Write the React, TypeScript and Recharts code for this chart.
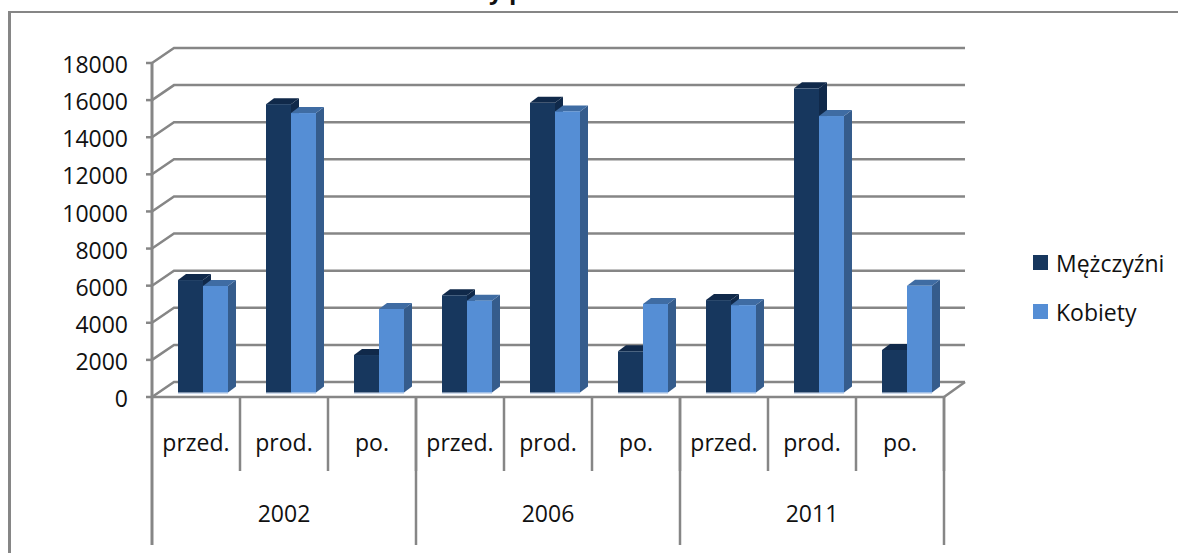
import React from 'react';
import { BarChart, Bar, XAxis, YAxis, CartesianGrid, Legend } from 'recharts';

const years = ['2002', '2002', '2002', '2006', '2006', '2006', '2011', '2011', '2011'];
const phases = ['przed.', 'prod.', 'po.', 'przed.', 'prod.', 'po.', 'przed.', 'prod.', 'po.'];
const menValues = [6060, 15540, 2020, 5240, 15610, 2220, 4980, 16390, 2290];
const womenValues = [5740, 15060, 4500, 4950, 15150, 4770, 4710, 14900, 5750];
const yTicks = [0, 2000, 4000, 6000, 8000, 10000, 12000, 14000, 16000, 18000];

const data = phases.map((phase, i) => ({
  key: years[i] + phase,
  phase,
  year: years[i],
  men: menValues[i],
  women: womenValues[i],
}));

const AXIS = '#868686';
const FONT = '"Open Sans", sans-serif';
const TEXT = '#111';
const DEPTH_X = 8;
const DEPTH_Y = 6;
const WALL_X = 22;
const WALL_Y = 15;

// pseudo 3D bar: front, top and side faces
const make3dBar = (front: string, top: string, side: string) => (props: any) => {
  const { width, height } = props;
  const x = props.x + 7;
  const y = props.y - 4.5;
  const r = x + width;
  const b = y + height;
  return (
    <g>
      <rect x={x} y={b} width={width} height={1.5} fill="#cfdcee" />
      <polygon
        points={`${r},${y} ${r + DEPTH_X},${y - DEPTH_Y} ${r + DEPTH_X},${b - DEPTH_Y} ${r},${b}`}
        fill={side}
      />
      <polygon
        points={`${x},${y} ${x + DEPTH_X},${y - DEPTH_Y} ${r + DEPTH_X},${y - DEPTH_Y} ${r},${y}`}
        fill={top}
      />
      <rect x={x} y={y} width={width} height={height} fill={front} />
    </g>
  );
};

const MenBar = make3dBar('#17375e', '#10294a', '#10294a');
const WomenBar = make3dBar('#558ed5', '#3f6ca3', '#355c8c');

// back wall line plus the diagonal running to the front axis
const gridLine = (props: any) => {
  const { x1, x2, y1 } = props;
  return (
    <g key={`grid-${y1}`}>
      <path
        d={`M${x1},${y1} L${x1 + WALL_X},${y1 - WALL_Y} L${x2 + WALL_X - 1},${y1 - WALL_Y}`}
        fill="none"
        stroke={AXIS}
        strokeWidth={2.5}
      />
      {y1 > 390 && (
        <line x1={x2} y1={y1} x2={x2 + WALL_X - 1} y2={y1 - WALL_Y} stroke={AXIS} strokeWidth={2.5} />
      )}
    </g>
  );
};

const PhaseTick = (props: any) => {
  const { x, y, payload, index } = props;
  return (
    <g>
      <line x1={x + 44} y1={y} x2={x + 44} y2={y + 74} stroke={AXIS} strokeWidth={2.5} />
      {index === 0 && <line x1={x - 44} y1={y} x2={x - 44} y2={y + 148} stroke={AXIS} strokeWidth={3} />}
      <text x={x} y={y + 54} textAnchor="middle" fontFamily={FONT} fontSize={23} fill={TEXT}>
        {payload.value}
      </text>
    </g>
  );
};

const YearTick = (props: any) => {
  const { x, y, payload, index } = props;
  return (
    <g>
      {index % 3 === 2 && <line x1={x + 44} y1={y - 74} x2={x + 44} y2={y + 74} stroke={AXIS} strokeWidth={2.5} />}
      {index % 3 === 1 && (
        <text x={x} y={y + 51} textAnchor="middle" fontFamily={FONT} fontSize={23} fill={TEXT}>
          {payload.value}
        </text>
      )}
    </g>
  );
};

const LegendBox = ({ payload }: any) => (
  <div>
    {(payload || []).map((item: any) => (
      <div key={item.value} style={{ display: 'flex', alignItems: 'center', height: 49 }}>
        <span style={{ width: 15, height: 15, background: item.color, marginRight: 8 }} />
        <span style={{ fontFamily: FONT, fontSize: 23, color: TEXT }}>{item.value}</span>
      </div>
    ))}
  </div>
);

const App = () => (
  <div style={{ position: 'absolute', left: 0, top: 0, width: 1178, height: 553, overflow: 'hidden' }}>
    <div
      style={{
        position: 'absolute',
        left: 8,
        top: 11,
        right: 0,
        bottom: 0,
        borderLeft: `3px solid ${AXIS}`,
        borderTop: `2px solid ${AXIS}`,
      }}
    />
    <div
      style={{
        position: 'absolute',
        left: 489,
        top: -27,
        fontFamily: FONT,
        fontWeight: 700,
        fontSize: 24,
        whiteSpace: 'pre',
        color: '#111',
      }}
    >
      y p
    </div>
    <BarChart
      width={1178}
      height={553}
      data={data}
      barSize={25}
      barGap={0}
      margin={{ top: 63, right: 89, bottom: 0, left: 0 }}
      style={{ position: 'absolute', left: 0, top: 0 }}
    >
      <CartesianGrid vertical={false} horizontal={gridLine} />
      <XAxis
        dataKey="phase"
        xAxisId="phase"
        height={74}
        interval={0}
        tickLine={false}
        tickSize={0}
        tickMargin={0}
        axisLine={{ stroke: AXIS, strokeWidth: 2.5 }}
        tick={<PhaseTick />}
      />
      <XAxis
        dataKey="year"
        xAxisId="year"
        height={82}
        interval={0}
        tickLine={false}
        tickSize={0}
        tickMargin={0}
        axisLine={false}
        tick={<YearTick />}
      />
      <YAxis
        width={152}
        domain={[0, 18000]}
        ticks={yTicks}
        interval={0}
        tickSize={6}
        tickMargin={18}
        tickLine={{ stroke: AXIS, strokeWidth: 2.5 }}
        axisLine={{ stroke: AXIS, strokeWidth: 3 }}
        tick={{ fontFamily: FONT, fontSize: 23, fill: TEXT, dy: 2 }}
      />
      <Legend
        layout="vertical"
        align="right"
        verticalAlign="top"
        itemSorter="dataKey"
        content={<LegendBox />}
        wrapperStyle={{ left: 1033, top: 238, width: 145 }}
      />
      <Bar dataKey="men" name="Mężczyźni" xAxisId="phase" fill="#17375e" shape={MenBar} isAnimationActive={false} />
      <Bar dataKey="women" name="Kobiety" xAxisId="phase" fill="#558ed5" shape={WomenBar} isAnimationActive={false} />
    </BarChart>
  </div>
);

export default App;
